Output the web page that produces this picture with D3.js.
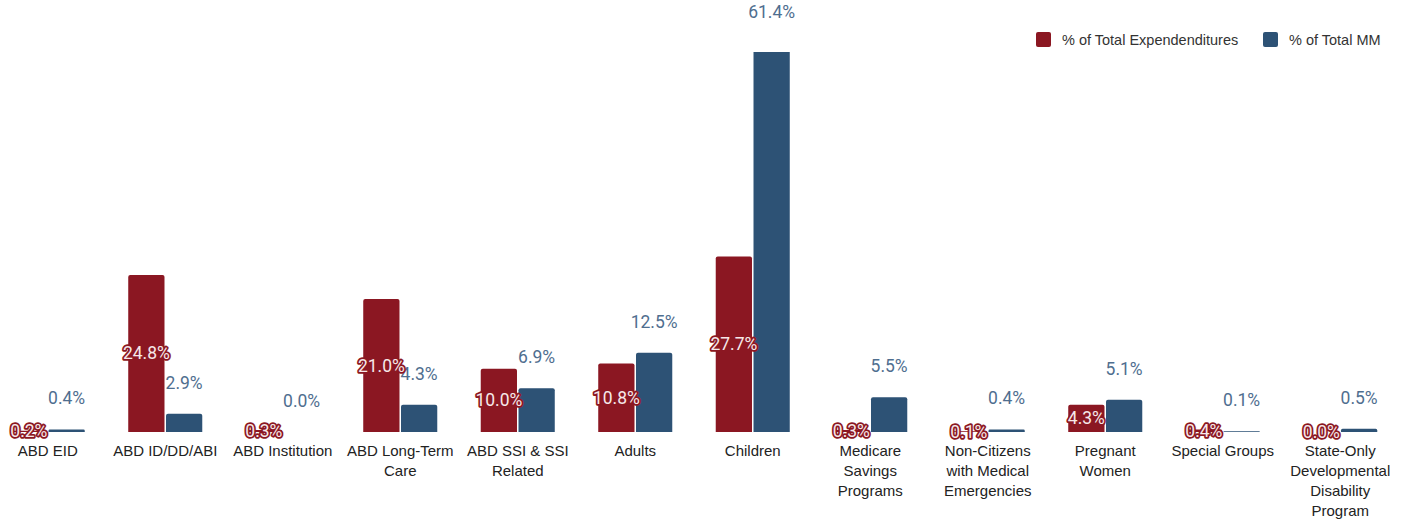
<!DOCTYPE html>
<html>
<head>
<meta charset="utf-8">
<script src="https://cdn.jsdelivr.net/npm/d3@7"></script>
<style>
  html, body { margin: 0; padding: 0; background: #fff; }
  svg { display: block; }
</style>
</head>
<body>
<div id="chart"></div>
<script>
// Eligibility groups shown along the x axis (each entry is a list of label lines)
const categories = [
  ["ABD EID"],
  ["ABD ID/DD/ABI"],
  ["ABD Institution"],
  ["ABD Long-Term", "Care"],
  ["ABD SSI & SSI", "Related"],
  ["Adults"],
  ["Children"],
  ["Medicare", "Savings", "Programs"],
  ["Non-Citizens", "with Medical", "Emergencies"],
  ["Pregnant", "Women"],
  ["Special Groups"],
  ["State-Only", "Developmental", "Disability", "Program"]
];

// Share of total expenditures (%)
const expenditures = [0.2, 24.8, 0.3, 21.0, 10.0, 10.8, 27.7, 0.3, 0.1, 4.3, 0.4, 0.0];
// Share of total member months (%)
const memberMonths = [0.4, 2.9, 0.0, 4.3, 6.9, 12.5, 61.4, 5.5, 0.4, 5.1, 0.1, 0.5];

const seriesNames = ["% of Total Expendenditures", "% of Total MM"];
const yDomain = [0, 60];

const W = 1406, H = 523;
const RED = "#8b1722", BLUE = "#2d5275", BLUE_TEXT = "#4f6e8f";

const svg = d3.select("#chart").append("svg")
  .attr("width", W).attr("height", H);

const keys = categories.map(c => c.join(" "));
const x0 = d3.scaleBand().domain(keys).range([-11, 1399]).paddingInner(0.37).paddingOuter(0.185);
const x1 = d3.scaleBand().domain(["exp", "mm"]).range([0, x0.bandwidth()]).paddingInner(0.04);
const y = d3.scaleLinear().domain(yDomain).range([432, 52]);

const rows = keys.map((k, i) => ({ key: k, lines: categories[i], exp: expenditures[i], mm: memberMonths[i] }));

// Plot area clip so values beyond the axis maximum are cut at the top
svg.append("defs").append("clipPath").attr("id", "plot")
  .append("rect").attr("x", 0).attr("y", y(yDomain[1])).attr("width", W).attr("height", y(0) - y(yDomain[1]));

// Bars with slightly rounded tops
function barPath(x, w, yTop, yBase) {
  const h = yBase - yTop;
  const r = Math.min(2, h / 2, w / 2);
  return `M${x},${yBase}V${yTop + r}Q${x},${yTop} ${x + r},${yTop}H${x + w - r}Q${x + w},${yTop} ${x + w},${yTop + r}V${yBase}Z`;
}

const bars = svg.append("g").attr("clip-path", "url(#plot)");
const groups = bars.selectAll("g").data(rows).join("g")
  .attr("transform", d => `translate(${x0(d.key)},0)`);

groups.append("path")
  .attr("fill", RED)
  .attr("d", d => barPath(x1("exp"), x1.bandwidth(), y(d.exp), y(0)));

groups.append("path")
  .attr("fill", BLUE)
  .attr("d", d => barPath(x1("mm"), x1.bandwidth(), y(d.mm), y(0)));

// Value labels
const labels = svg.append("g").attr("font-family", "Roboto, sans-serif").attr("font-size", 17.5);

labels.selectAll("text.mm").data(rows).join("text")
  .attr("class", "mm")
  .attr("x", d => x0(d.key) + x1("mm") + x1.bandwidth() / 2)
  .attr("y", d => y(d.mm) - 31)
  .attr("text-anchor", "middle")
  .attr("dominant-baseline", "central")
  .attr("fill", BLUE_TEXT)
  .text(d => d.mm.toFixed(1) + "%");

labels.selectAll("text.exp").data(rows).join("text")
  .attr("class", "exp")
  .attr("x", d => x0(d.key) + x1("exp") + x1.bandwidth() / 2)
  .attr("y", d => (y(d.exp) + y(0)) / 2)
  .attr("text-anchor", "middle")
  .attr("dominant-baseline", "central")
  .attr("fill", "#f6e8e9")
  .attr("stroke", RED)
  .attr("stroke-width", 3.5)
  .attr("stroke-linejoin", "round")
  .attr("paint-order", "stroke")
  .text(d => d.exp.toFixed(1) + "%");

// Category axis labels
const xAxis = svg.append("g").attr("font-family", "'Liberation Sans', Arial, sans-serif").attr("font-size", 15).attr("fill", "#222");
xAxis.selectAll("text").data(rows).join("text")
  .attr("x", d => x0(d.key) + x0.bandwidth() / 2)
  .attr("y", 456)
  .attr("text-anchor", "middle")
  .each(function(d) {
    d3.select(this).selectAll("tspan").data(d.lines).join("tspan")
      .attr("x", x0(d.key) + x0.bandwidth() / 2)
      .attr("dy", (l, i) => i === 0 ? 0 : 20)
      .text(l => l);
  });

// Legend
const legend = svg.append("g").attr("font-family", "'Liberation Sans', Arial, sans-serif").attr("font-size", 14.5).attr("fill", "#333");
const legendItems = [
  { name: seriesNames[0], color: RED, x: 1036 },
  { name: seriesNames[1], color: BLUE, x: 1263 }
];
const li = legend.selectAll("g").data(legendItems).join("g")
  .attr("transform", d => `translate(${d.x},32)`);
li.append("rect").attr("width", 15).attr("height", 15).attr("rx", 2).attr("fill", d => d.color);
li.append("text").attr("x", 26).attr("y", 8).attr("dominant-baseline", "central").text(d => d.name);
</script>
</body>
</html>
